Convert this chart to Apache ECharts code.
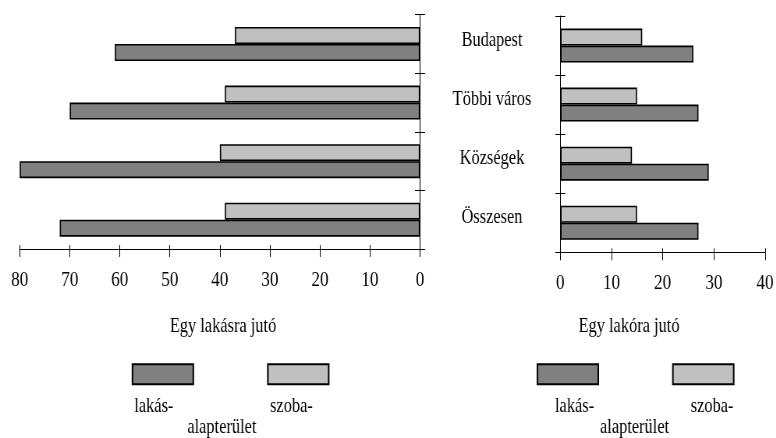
<!DOCTYPE html>
<html>
<head>
<meta charset="utf-8">
<script src="https://cdn.jsdelivr.net/npm/echarts@6/dist/echarts.min.js"></script>
<style>
  html, body { margin: 0; padding: 0; background: #fff; overflow: hidden; }
  #wrap { width: 776px; height: 438px; overflow: hidden; }
  /* the serif type in this figure is narrow; the chart is laid out wider and squeezed horizontally */
  #chart { width: 995px; height: 438px; transform: scaleX(0.78); transform-origin: 0 0; }
</style>
</head>
<body>
<div id="wrap"><div id="chart"></div></div>
<script>
// Settlement groups, top to bottom
const categories = ['Budapest', 'Többi város', 'Községek', 'Összesen'];

// Floor area per dwelling (m²)
const perDwellingFloor = [61, 70, 80, 72];   // lakás-alapterület
const perDwellingRoom  = [37, 39, 40, 39];   // szoba-alapterület

// Floor area per resident (m²)
const perResidentFloor = [26, 27, 29, 27];
const perResidentRoom  = [16, 15, 14, 15];

const leftTicks  = { min: 0, max: 80, interval: 10 };
const rightTicks = { min: 0, max: 40, interval: 10 };

const FLOOR_NAME = 'lakás-alapterület';
const ROOM_NAME  = 'szoba-alapterület';

const SX = 0.78;                  // horizontal squeeze applied by CSS
const px = x => x / SX;           // screen x -> layout x
const FONT = "'Liberation Serif', 'Times New Roman', serif";
const FS = 21;

const darkFill = '#808080';
const lightFill = '#c0c0c0';

const axisLine = { show: true, onZero: false, lineStyle: { color: '#000', width: 1 } };

function valueAxis(grid, ticks, inverse, mirror) {
  return {
    type: 'value', gridIndex: grid, min: ticks.min, max: ticks.max, interval: ticks.interval,
    inverse: inverse, position: 'bottom',
    axisLine: mirror ? { show: false } : axisLine,
    axisTick: { show: true, inside: !!mirror, length: mirror ? 4 : 8, lineStyle: { color: '#000' } },
    axisLabel: mirror ? { show: false } : { show: true, color: '#000', fontFamily: FONT, fontSize: 22, margin: 20 },
    splitLine: { show: false }
  };
}

function categoryAxis(grid, side, mirror, labels) {
  return {
    type: 'category', gridIndex: grid, data: categories, inverse: true, position: side,
    axisLine: mirror ? { show: false } : axisLine,
    axisTick: { show: true, inside: !!mirror, length: px(5), lineStyle: { color: '#000' } },
    axisLabel: labels
      ? { show: true, color: '#000', fontFamily: FONT, fontSize: FS, align: 'center',
          verticalAlign: 'bottom', lineHeight: 11,
          margin: px(560.3 - 492) }
      : { show: false },
    splitLine: { show: false }
  };
}

function bars(name, color, xi, yi, data) {
  return {
    type: 'bar', name: name, xAxisIndex: xi, yAxisIndex: yi, data: data,
    barWidth: 17, barGap: '0%',
    itemStyle: { color: color, borderColor: '#000', borderWidth: 1.6 },
    emphasis: { disabled: true }
  };
}

function legendAt(x) {
  return {
    data: [FLOOR_NAME, ROOM_NAME], left: px(x), top: 363.3, padding: 0,
    icon: 'rect', itemWidth: px(60.8), itemHeight: 20, itemGap: px(74.6) - 5 + 3,
    selectedMode: false, formatter: () => '',
    textStyle: { fontSize: 1 }
  };
}

function label(text, x, baseline, align) {
  return {
    type: 'text', x: px(x), y: baseline - 7,
    style: { text: text, fill: '#000', font: FS + 'px ' + FONT, textAlign: align || 'left', textVerticalAlign: 'middle' }
  };
}

const chart = echarts.init(document.getElementById('chart'), null, { renderer: 'canvas' });

chart.setOption({
  animation: false,
  backgroundColor: '#fff',
  grid: [
    { left: px(19.7), top: 14.7, width: px(420 - 19.7), height: 234.3 },
    { left: px(560.3), top: 16, width: px(765 - 560.3), height: 236.3 }
  ],
  xAxis: [
    valueAxis(0, leftTicks, true, false),
    valueAxis(0, leftTicks, true, true),
    valueAxis(1, rightTicks, false, false),
    valueAxis(1, rightTicks, false, true)
  ],
  yAxis: [
    categoryAxis(0, 'right', false, false),
    categoryAxis(0, 'right', true, false),
    categoryAxis(1, 'left', false, true),
    categoryAxis(1, 'left', true, false)
  ],
  legend: [legendAt(131.7), legendAt(536.7)],
  series: [
    bars(ROOM_NAME, lightFill, 0, 0, perDwellingRoom),
    bars(FLOOR_NAME, darkFill, 0, 0, perDwellingFloor),
    bars(ROOM_NAME, lightFill, 2, 2, perResidentRoom),
    bars(FLOOR_NAME, darkFill, 2, 2, perResidentFloor)
  ],
  graphic: [
    label('Egy lakásra jutó', 223, 333.3, 'center'),
    label('Egy lakóra jutó', 629, 333.3, 'center'),
    label('lakás-', 134.3, 413.3),
    label('szoba-', 270, 413.3),
    label('alapterület', 187.3, 434),
    label('lakás-', 555, 413.3),
    label('szoba-', 690.7, 413.3),
    label('alapterület', 600, 434)
  ]
});
</script>
</body>
</html>
